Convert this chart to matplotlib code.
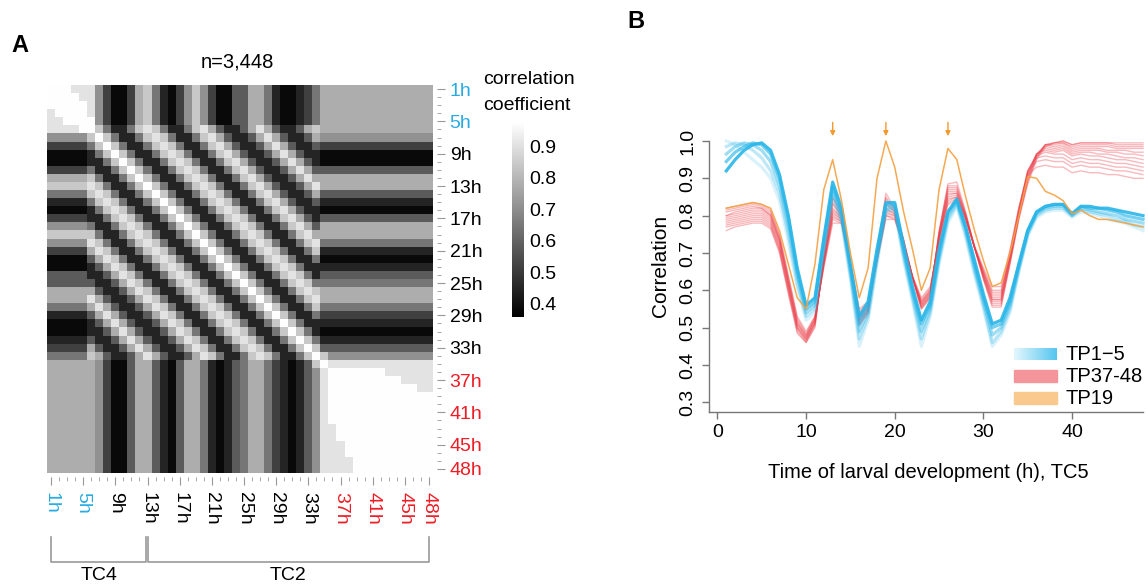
import numpy as np
import matplotlib
matplotlib.use('Agg')
import matplotlib.pyplot as plt
from matplotlib.colors import Normalize, LinearSegmentedColormap
from matplotlib.cm import ScalarMappable
from matplotlib.patches import Rectangle
from matplotlib.transforms import blended_transform_factory

plt.rcParams['font.family'] = ['Liberation Sans', 'DejaVu Sans']
plt.rcParams['font.size'] = 14

# ---------------- panel A data ----------------
# grey level of each digit (0 = black ... 9 = white)
corr_levels = [0.38, 0.446, 0.512, 0.578, 0.644, 0.71, 0.776, 0.842, 0.908, 0.974]

# lower triangle of the 48x48 matrix, row i holds columns 1..i
corr_rows = [
    "9",
    "99",
    "999",
    "8999",
    "88999",
    "888899",
    "5555579",
    "22222479",
    "000001479",
    "0000011479",
    "22222411479",
    "666667411479",
    "7777787411479",
    "44444787411479",
    "111114787411479",
    "0000014787411479",
    "22222114787411479",
    "555554114787411479",
    "7777774114787411479",
    "55555874114787411479",
    "222226874114787411479",
    "0000036874114787411479",
    "00000136874114787411479",
    "333331136874114787411479",
    "3333331136874114787411479",
    "66666631136874114787411479",
    "666668631136874114787411479",
    "4444468631136874114787411479",
    "11111368631136874114787411479",
    "000001368631136874114787411479",
    "0000011368631136874114787411479",
    "11111311368631136874114787411479",
    "222226311368631136874114787411479",
    "4444476311368631136874114787411479",
    "66666652003663103664101346642101379",
    "666666520036631036641013466421013589",
    "6666665200366310366410134664210135899",
    "66666652003663103664101346642101358999",
    "666666520036631036641013466421013589999",
    "6666665200366310366410134664210135899999",
    "66666652003663103664101346642101358999999",
    "666666520036631036641013466421013589999999",
    "6666665200366310366410134664210135889999999",
    "66666652003663103664101346642101358899999999",
    "666666520036631036641013466421013588899999999",
    "6666665200366310366410134664210135888999999999",
    "66666652003663103664101346642101358888999999999",
    "666666520036631036641013466421013588889999999999",
]

hour_ticks = [1, 5, 9, 13, 17, 21, 25, 29, 33, 37, 41, 45, 48]
hour_labels = ['1h', '5h', '9h', '13h', '17h', '21h', '25h', '29h', '33h',
               '37h', '41h', '45h', '48h']
blue = '#29abe2'
red = '#ee1c25'
hour_colors = [blue, blue] + ['black'] * 7 + [red] * 4

# ---------------- panel B data ----------------
tc5_hours = list(range(1, 49))

tp1 = [1.0, 0.99, 0.97, 0.95, 0.93, 0.90, 0.84, 0.73, 0.61, 0.52, 0.54, 0.70,
       0.85, 0.78, 0.63, 0.45, 0.52, 0.67, 0.81, 0.815, 0.68, 0.57, 0.45, 0.53,
       0.67, 0.78, 0.825, 0.74, 0.64, 0.55, 0.45, 0.48, 0.54, 0.65, 0.745, 0.795,
       0.81, 0.815, 0.815, 0.795, 0.81, 0.805, 0.80, 0.79, 0.785, 0.78, 0.77, 0.76]
tp2 = [0.985, 0.995, 0.99, 0.975, 0.955, 0.92, 0.86, 0.75, 0.62, 0.53, 0.55, 0.71,
       0.86, 0.79, 0.64, 0.47, 0.53, 0.68, 0.815, 0.82, 0.69, 0.58, 0.47, 0.54,
       0.68, 0.79, 0.83, 0.75, 0.65, 0.56, 0.46, 0.49, 0.55, 0.655, 0.75, 0.80,
       0.815, 0.82, 0.82, 0.80, 0.815, 0.81, 0.805, 0.80, 0.79, 0.785, 0.775, 0.77]
tp3 = [0.965, 0.985, 0.995, 0.99, 0.975, 0.945, 0.88, 0.77, 0.64, 0.54, 0.56, 0.72,
       0.87, 0.80, 0.65, 0.49, 0.54, 0.69, 0.82, 0.825, 0.70, 0.59, 0.49, 0.55,
       0.69, 0.80, 0.835, 0.76, 0.66, 0.57, 0.48, 0.50, 0.56, 0.66, 0.755, 0.805,
       0.82, 0.825, 0.825, 0.80, 0.82, 0.815, 0.81, 0.805, 0.80, 0.79, 0.785, 0.78]
tp4 = [0.945, 0.97, 0.985, 0.995, 0.99, 0.965, 0.90, 0.79, 0.65, 0.55, 0.57, 0.73,
       0.88, 0.81, 0.66, 0.51, 0.56, 0.70, 0.83, 0.83, 0.71, 0.60, 0.51, 0.56,
       0.70, 0.81, 0.84, 0.77, 0.67, 0.58, 0.50, 0.51, 0.57, 0.67, 0.76, 0.81,
       0.825, 0.83, 0.83, 0.805, 0.825, 0.82, 0.82, 0.815, 0.81, 0.80, 0.795, 0.79]
tp5 = [0.92, 0.95, 0.975, 0.99, 0.995, 0.975, 0.91, 0.80, 0.66, 0.56, 0.58, 0.74,
       0.89, 0.82, 0.67, 0.53, 0.57, 0.71, 0.835, 0.835, 0.72, 0.61, 0.52, 0.57,
       0.71, 0.81, 0.845, 0.77, 0.68, 0.59, 0.51, 0.52, 0.58, 0.67, 0.76, 0.81,
       0.825, 0.83, 0.83, 0.805, 0.825, 0.825, 0.82, 0.82, 0.815, 0.81, 0.805, 0.80]
early_lines = [tp1, tp2, tp3, tp4, tp5]
early_alpha = [0.18, 0.3, 0.45, 0.65, 0.9]

tp37 = [0.82, 0.825, 0.83, 0.835, 0.83, 0.815, 0.75, 0.64, 0.53, 0.49, 0.53, 0.66,
        0.78, 0.78, 0.67, 0.55, 0.57, 0.68, 0.79, 0.79, 0.72, 0.64, 0.58, 0.61,
        0.73, 0.83, 0.84, 0.79, 0.72, 0.66, 0.61, 0.61, 0.71, 0.82, 0.91, 0.93,
        0.935, 0.93, 0.93, 0.915, 0.92, 0.915, 0.915, 0.91, 0.91, 0.905, 0.90, 0.90]
tp38 = [0.815, 0.82, 0.825, 0.83, 0.825, 0.81, 0.745, 0.635, 0.525, 0.485, 0.53, 0.665,
        0.79, 0.78, 0.665, 0.545, 0.565, 0.68, 0.80, 0.79, 0.72, 0.635, 0.575, 0.605,
        0.735, 0.835, 0.845, 0.79, 0.715, 0.655, 0.60, 0.60, 0.70, 0.82, 0.915, 0.945,
        0.95, 0.945, 0.945, 0.93, 0.935, 0.93, 0.93, 0.925, 0.92, 0.92, 0.915, 0.91]
tp39 = [0.81, 0.815, 0.82, 0.825, 0.82, 0.805, 0.74, 0.63, 0.52, 0.48, 0.525, 0.67,
        0.795, 0.785, 0.665, 0.54, 0.56, 0.68, 0.80, 0.795, 0.72, 0.635, 0.57, 0.60,
        0.735, 0.84, 0.85, 0.79, 0.715, 0.65, 0.595, 0.595, 0.70, 0.82, 0.92, 0.955,
        0.96, 0.955, 0.955, 0.94, 0.945, 0.94, 0.94, 0.935, 0.93, 0.93, 0.925, 0.92]
tp40 = [0.80, 0.81, 0.815, 0.82, 0.82, 0.80, 0.735, 0.625, 0.515, 0.48, 0.525, 0.67,
        0.80, 0.785, 0.665, 0.535, 0.56, 0.685, 0.805, 0.80, 0.725, 0.635, 0.57, 0.60,
        0.74, 0.845, 0.85, 0.795, 0.715, 0.65, 0.59, 0.59, 0.695, 0.815, 0.92, 0.96,
        0.97, 0.965, 0.965, 0.95, 0.955, 0.95, 0.95, 0.945, 0.94, 0.94, 0.935, 0.93]
tp41 = [0.80, 0.805, 0.81, 0.815, 0.815, 0.80, 0.735, 0.62, 0.51, 0.475, 0.52, 0.675,
        0.805, 0.79, 0.665, 0.53, 0.555, 0.685, 0.81, 0.80, 0.725, 0.635, 0.565, 0.595,
        0.74, 0.85, 0.855, 0.795, 0.715, 0.645, 0.585, 0.585, 0.69, 0.81, 0.92, 0.965,
        0.975, 0.97, 0.975, 0.96, 0.965, 0.96, 0.96, 0.955, 0.95, 0.95, 0.945, 0.94]
tp42 = [0.795, 0.80, 0.805, 0.81, 0.81, 0.795, 0.73, 0.62, 0.51, 0.475, 0.52, 0.675,
        0.81, 0.79, 0.665, 0.53, 0.555, 0.69, 0.815, 0.805, 0.725, 0.635, 0.565, 0.595,
        0.745, 0.855, 0.86, 0.795, 0.715, 0.645, 0.58, 0.58, 0.69, 0.81, 0.915, 0.965,
        0.98, 0.975, 0.98, 0.965, 0.97, 0.97, 0.965, 0.965, 0.96, 0.955, 0.955, 0.95]
tp43 = [0.79, 0.795, 0.80, 0.805, 0.805, 0.79, 0.725, 0.615, 0.505, 0.47, 0.515, 0.68,
        0.815, 0.795, 0.665, 0.525, 0.55, 0.69, 0.82, 0.805, 0.73, 0.635, 0.56, 0.59,
        0.745, 0.86, 0.86, 0.80, 0.715, 0.64, 0.575, 0.575, 0.685, 0.805, 0.91, 0.965,
        0.985, 0.98, 0.985, 0.97, 0.975, 0.975, 0.975, 0.97, 0.97, 0.965, 0.965, 0.96]
tp44 = [0.785, 0.79, 0.795, 0.80, 0.80, 0.785, 0.72, 0.61, 0.50, 0.47, 0.515, 0.68,
        0.82, 0.795, 0.665, 0.52, 0.55, 0.695, 0.83, 0.81, 0.73, 0.635, 0.56, 0.59,
        0.75, 0.865, 0.865, 0.80, 0.715, 0.64, 0.575, 0.575, 0.68, 0.80, 0.905, 0.965,
        0.99, 0.985, 0.99, 0.975, 0.98, 0.98, 0.98, 0.975, 0.975, 0.975, 0.97, 0.97]
tp45 = [0.78, 0.785, 0.79, 0.795, 0.795, 0.78, 0.715, 0.605, 0.50, 0.465, 0.51, 0.685,
        0.83, 0.80, 0.665, 0.52, 0.545, 0.695, 0.835, 0.81, 0.73, 0.635, 0.555, 0.585,
        0.75, 0.87, 0.87, 0.80, 0.715, 0.635, 0.57, 0.57, 0.68, 0.80, 0.90, 0.96,
        0.99, 0.99, 0.995, 0.98, 0.985, 0.985, 0.985, 0.985, 0.98, 0.98, 0.98, 0.98]
tp46 = [0.775, 0.78, 0.785, 0.79, 0.79, 0.775, 0.71, 0.60, 0.495, 0.465, 0.51, 0.685,
        0.835, 0.80, 0.665, 0.515, 0.545, 0.70, 0.845, 0.815, 0.735, 0.635, 0.555, 0.585,
        0.755, 0.875, 0.875, 0.805, 0.715, 0.635, 0.565, 0.565, 0.675, 0.795, 0.895, 0.96,
        0.99, 0.995, 0.995, 0.985, 0.99, 0.99, 0.99, 0.99, 0.985, 0.985, 0.985, 0.985]
tp47 = [0.77, 0.775, 0.78, 0.785, 0.785, 0.77, 0.705, 0.595, 0.49, 0.46, 0.505, 0.69,
        0.845, 0.805, 0.665, 0.51, 0.54, 0.70, 0.85, 0.815, 0.735, 0.635, 0.55, 0.58,
        0.755, 0.88, 0.88, 0.805, 0.715, 0.63, 0.56, 0.56, 0.675, 0.795, 0.89, 0.955,
        0.99, 0.995, 1.0, 0.99, 0.995, 0.995, 0.995, 0.995, 0.99, 0.99, 0.99, 0.99]
tp48 = [0.76, 0.77, 0.775, 0.78, 0.78, 0.765, 0.70, 0.59, 0.485, 0.46, 0.50, 0.69,
        0.85, 0.81, 0.665, 0.505, 0.54, 0.705, 0.86, 0.82, 0.735, 0.635, 0.55, 0.58,
        0.76, 0.885, 0.89, 0.81, 0.715, 0.63, 0.555, 0.555, 0.67, 0.79, 0.885, 0.95,
        0.985, 0.995, 1.0, 0.99, 0.995, 0.995, 0.995, 0.995, 0.995, 0.995, 0.995, 0.995]
adult_lines = [tp37, tp38, tp39, tp40, tp41, tp42, tp43, tp44, tp45, tp46, tp47, tp48]

tp19 = [0.82, 0.825, 0.83, 0.835, 0.83, 0.82, 0.76, 0.67, 0.58, 0.55, 0.67, 0.87,
        0.95, 0.84, 0.70, 0.58, 0.66, 0.90, 1.0, 0.93, 0.81, 0.71, 0.60, 0.66,
        0.87, 0.98, 0.95, 0.85, 0.76, 0.68, 0.61, 0.62, 0.70, 0.80, 0.905, 0.90,
        0.865, 0.855, 0.84, 0.805, 0.815, 0.80, 0.79, 0.79, 0.785, 0.78, 0.775, 0.77]

arrow_hours = [13, 19, 26]
legend_names = ['TP1\u22125', 'TP37-48', 'TP19']

# ---------------- figure ----------------
W, H = 1148, 586
fig = plt.figure(figsize=(W / 100, H / 100), dpi=100)


def box(x0, y0, x1, y1):
    return [x0 / W, 1 - y1 / H, (x1 - x0) / W, (y1 - y0) / H]


# panel A heatmap
axA = fig.add_axes(box(47, 85, 433, 473))
mat = np.full((48, 48), np.nan)
for i, row in enumerate(corr_rows):
    for j, ch in enumerate(row):
        mat[i, j] = corr_levels[int(ch)]
        mat[j, i] = corr_levels[int(ch)]
norm = Normalize(0.357, 0.977)
axA.imshow(mat, cmap='gray', norm=norm, extent=(0.5, 48.5, 48.5, 0.5),
           aspect='auto', interpolation='nearest')
for s in axA.spines.values():
    s.set_visible(False)
axA.spines['right'].set_position(('outward', 3))
axA.spines['bottom'].set_position(('outward', 3))
axA.yaxis.tick_right()
axA.set_yticks(hour_ticks)
axA.set_yticklabels(hour_labels)
axA.set_yticks(range(1, 49), minor=True)
axA.set_xticks(hour_ticks)
axA.set_xticklabels(hour_labels, rotation=270)
axA.set_xticks(range(1, 49), minor=True)
axA.tick_params(which='major', length=6, width=0.8, color='#999999', labelsize=14, pad=3)
axA.tick_params(which='minor', length=3, width=0.6, color='#999999')
axA.tick_params(axis='x', which='major', pad=5)
for lab, c in zip(axA.get_xticklabels(), hour_colors):
    lab.set_color(c)
for lab, c in zip(axA.get_yticklabels(), hour_colors):
    lab.set_color(c)

# TC4 / TC2 brackets
tr = blended_transform_factory(axA.transData, axA.transAxes)
for x0, x1, name in [(1, 12.85, 'TC4'), (13.05, 48, 'TC2')]:
    axA.plot([x0, x0, x1, x1], [-0.165, -0.2286, -0.2286, -0.165], color='#999999',
             lw=1.2, transform=tr, clip_on=False)
    axA.text((x0 + x1) / 2, -0.263, name, transform=tr, ha='center', va='center', fontsize=14)

fig.text(237 / W, 1 - 62 / H, 'n=3,448', ha='center', va='center', fontsize=14.5)
fig.text(20 / W, 1 - 45 / H, 'A', ha='center', va='center', fontsize=17, fontweight='bold')
fig.text(636 / W, 1 - 22 / H, 'B', ha='center', va='center', fontsize=17, fontweight='bold')

# colour bar
cax = fig.add_axes(box(512, 122, 524, 317))
cb = fig.colorbar(ScalarMappable(norm=norm, cmap='gray'), cax=cax)
cb.outline.set_visible(False)
cb.set_ticks([0.4, 0.5, 0.6, 0.7, 0.8, 0.9])
cb.set_ticklabels(['0.4', '0.5', '0.6', '0.7', '0.8', '0.9'])
cax.tick_params(length=0, labelsize=14, pad=4)
fig.text(483 / W, 1 - 80 / H, 'correlation', ha='left', va='center', fontsize=14)
fig.text(483 / W, 1 - 105 / H, 'coefficient', ha='left', va='center', fontsize=14)

# panel B lines
axB = fig.add_axes(box(709, 141, 1143, 411.7))
for y in adult_lines:
    axB.plot(tc5_hours, y, color='#ec3b45', lw=1.0, alpha=0.35, clip_on=False)
for y, a in zip(early_lines, early_alpha):
    axB.plot(tc5_hours, y, color='#29b6e8', lw=2.3, alpha=a, clip_on=False)
axB.plot(tc5_hours, tp19, color='#f5a040', lw=1.1, alpha=0.9, clip_on=False)
for h in arrow_hours:
    axB.annotate('', xy=(h, 1.013), xytext=(h, 1.05),
                 arrowprops=dict(arrowstyle='-|>', color='#f39a2e', lw=1.0,
                                 mutation_scale=7, shrinkA=0, shrinkB=0),
                 annotation_clip=False)

axB.set_xlim(-0.95, 48)
axB.set_ylim(0.2748, 1.0)
axB.spines['top'].set_visible(False)
axB.spines['right'].set_visible(False)
for s in ['left', 'bottom']:
    axB.spines[s].set_color('#777777')
    axB.spines[s].set_linewidth(1.0)
axB.set_xticks([0, 10, 20, 30, 40])
axB.set_yticks([0.3, 0.4, 0.5, 0.6, 0.7, 0.8, 0.9, 1.0])
axB.set_yticklabels(['0.3', '0.4', '0.5', '0.6', '0.7', '0.8', '0.9', '1.0'])
axB.tick_params(length=5, width=1.0, color='#777777', labelsize=14, pad=4)
for lab in axB.get_yticklabels():
    lab.set_rotation(90)
    lab.set_va('center')
fig.text(660 / W, 1 - 266 / H, 'Correlation', rotation=90, ha='center', va='center',
         fontsize=15)
fig.text(928 / W, 1 - 473 / H, 'Time of larval development (h), TC5', ha='center',
         va='center', fontsize=14.5)

# legend
gx = fig.add_axes(box(1014, 348, 1057, 360))
gx.imshow(np.linspace(0, 1, 64)[None, :], aspect='auto',
          cmap=LinearSegmentedColormap.from_list('tp15', ['#e4f6fd', '#55c6ef']))
gx.axis('off')
fig.add_artist(Rectangle((1014 / W, 1 - 382 / H), 43 / W, 12 / H,
                         transform=fig.transFigure, color='#f4959b'))
fig.add_artist(Rectangle((1014 / W, 1 - 404 / H), 43 / W, 12 / H,
                         transform=fig.transFigure, color='#f9c98d'))
for name, yc in zip(legend_names, [354, 376, 398]):
    fig.text(1066 / W, 1 - yc / H, name, ha='left', va='center', fontsize=14.5)

fig.savefig('out.png', dpi=100)
